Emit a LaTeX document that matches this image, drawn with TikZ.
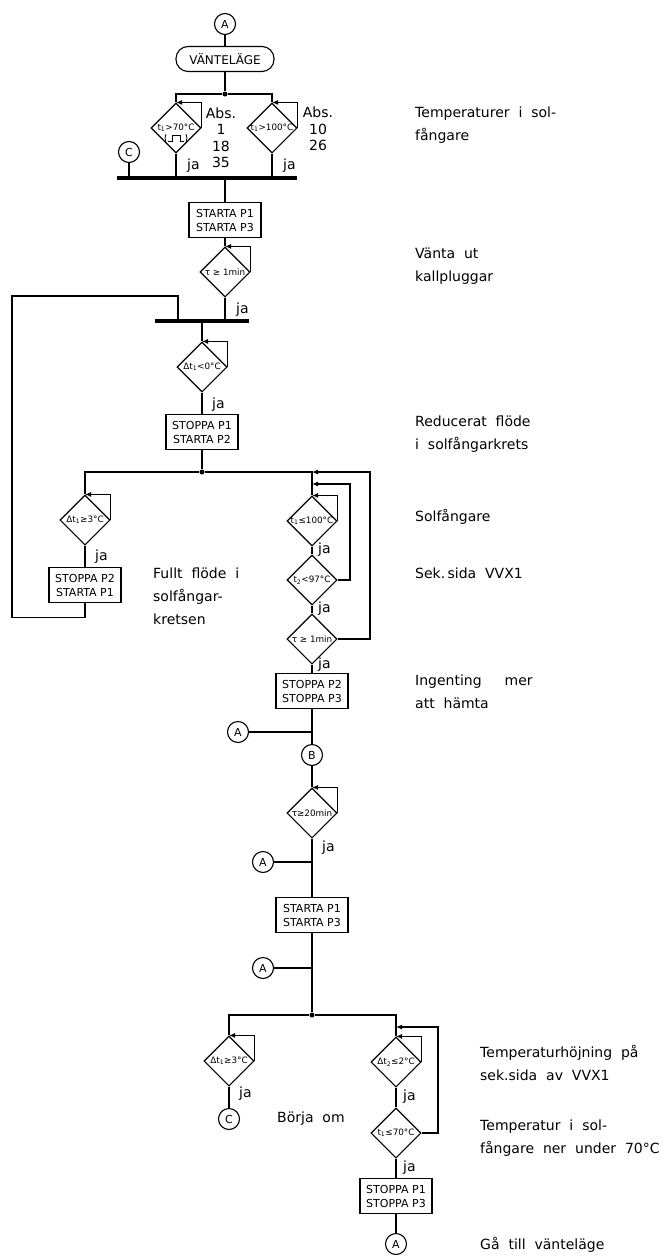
\documentclass[tikz,border=0pt]{standalone}
\usepackage{fontspec}
\setmainfont{DejaVu Sans}
\newfontfamily\labelfont[WordSpace=2]{DejaVu Sans}
\usepackage{tikz}
\usetikzlibrary{arrows.meta, shapes.geometric, positioning}
\newcommand{\idx}[1]{\textsubscript{#1}}
\tikzset{
  >=latex,
  % Flow elements
  line/.style={line width=1.1pt},
  back/.style={line, -{Latex[length=6pt,width=5pt]}},
  stepbox/.style={draw, line width=1.1pt, minimum width=72pt, minimum height=35pt, inner sep=1pt, align=center, font=\fontsize{11}{14}\selectfont},
  waitbox/.style={draw, line width=1.1pt, rounded corners=12pt, minimum width=98pt, minimum height=25pt, inner sep=1pt, font=\fontsize{12}{14}\selectfont},
  test/.style={draw, diamond, line width=1.1pt, minimum width=50pt, minimum height=50pt, inner sep=-5pt, font=\fontsize{8.8}{10}\selectfont},
  jump/.style={draw, circle, line width=1.1pt, minimum size=21pt, inner sep=0pt, font=\fontsize{11}{12}\selectfont},
  bus/.style={fill=black, minimum height=4pt, inner sep=0pt},
  dot/.style={circle, fill=black, minimum size=5pt, inner sep=0pt},
  ja/.style={anchor=west, inner sep=0pt, font=\fontsize{14}{16}\selectfont},
  absn/.style={align=center, inner sep=0pt, font=\fontsize{14}{16.5}\selectfont},
  note/.style={anchor=west, align=left, inner sep=0pt, font=\labelfont\fontsize{14}{23}\selectfont}
}

\begin{document}
\begin{tikzpicture}[x=1pt, y=-1pt]
\useasboundingbox (0,0) rectangle (671,1256);

% Waiting state and start conditions
\node[jump] (a0) at (225,24) {A};
\node[waitbox] (wait) at (225,59) {VÄNTELÄGE};
\node[dot] (j1) at (225,94) {};
\node[test] (d1) at (176,128) {t\idx{1}>70°C};
\node[test] (d2) at (272,128) {t\idx{1}>100°C};
\node[absn] (abs1) at (221,138) {Abs.\\1\\18\\35};
\node[absn] (abs2) at (318,129) {Abs.\\10\\26};
\node[bus, minimum width=180pt] (bar1) at (207,178) {};
\node[jump] (c0) at (129,152) {C};
\node[ja] (ja1) at (187,166) {ja};
\node[ja] (ja2) at (283,166) {ja};

\begin{scope}[shift={(d1.center)}]
\draw[line width=0.8pt] (-10,6) -- (-11,10) -- (-10,14);
\draw[line width=0.8pt] (10,6) -- (11,10) -- (10,14);
\draw[line width=0.8pt] (-8,13) -- (-4,13) -- (-4,7) -- (4,7) -- (4,13) -- (8,13);
\end{scope}

\draw[line] (a0) -- (wait) -- (j1);
\draw[line] (j1) -| (d1.north);
\draw[line] (j1) -| (d2.north);
\draw[back] (d1.east) |- (d1.north);
\draw[back] (d2.east) |- (d2.north);
\draw[line] (d1.south) -- (d1.south |- bar1.north);
\draw[line] (d2.south) -- (d2.south |- bar1.north);
\draw[line] (c0) -- (c0 |- bar1.north);

% Start pumps, wait out cold plugs
\node[stepbox] (b1) at (225,220) {STARTA P1\\STARTA P3};
\node[test] (d3) at (225,272) {τ ≥ 1min};
\node[ja] (ja3) at (236,310) {ja};
\node[bus, minimum width=94pt] (bar2) at (202,321) {};
\coordinate (fb) at (12,296);

\draw[line] (b1.north |- bar1.south) -- (b1.north);
\draw[line] (b1) -- (d3);
\draw[back] (d3.east) |- (d3.north);
\draw[line] (d3.south) -- (d3.south |- bar2.north);

% Reduced flow
\node[test] (d4) at (202,367) {Δt\idx{1}<0°C};
\node[ja] (ja4) at (212,405) {ja};
\node[stepbox] (b2) at (202,432) {STOPPA P1\\STARTA P2};
\node[dot] (j2) at (202,472) {};

\draw[line] (d4.north |- bar2.south) -- (d4.north);
\draw[back] (d4.east) |- (d4.north);
\draw[line] (d4) -- (b2) -- (j2);

% Left branch: full flow
\node[test] (d5) at (85,520) {Δt\idx{1}≥3°C};
\node[ja] (ja5) at (95,557) {ja};
\node[stepbox] (b3) at (85,585) {STOPPA P2\\STARTA P1};

\draw[line] (j2) -| (d5.north);
\draw[back] (d5.east) |- (d5.north);
\draw[line] (d5) -- (b3);
\draw[line] (b3.south) -- ++(0,14) -| (fb) -| ([xshift=-24pt]bar2.north);

% Right branch: nothing more to collect
\node[test] (d6) at (312,521) {t\idx{1}≤100°C};
\node[ja] (ja6) at (318,550) {ja};
\node[test] (d7) at (312,580) {t\idx{2}<97°C};
\node[ja] (ja7) at (318,609) {ja};
\node[test] (d8) at (312,639) {τ ≥ 1min};
\node[ja] (ja8) at (318,665) {ja};
\node[stepbox] (b4) at (312,691) {STOPPA P2\\STOPPA P3};
\coordinate (m1) at (350,484);
\coordinate (m2) at (370,472);

\draw[line] (j2) -| (d6.north);
\draw[back] (d6.east) |- (d6.north);
\draw[back] (d7.east) -| (m1) -- (m1 -| d6.north);
\draw[back] (d8.east) -| (m2) -- (m2 -| d6.north);
\draw[line] (d6) -- (d7) -- (d8) -- (b4);

% Restart after pause
\node[jump] (a1) at (238,732) {A};
\node[jump] (bb) at (312,755) {B};
\node[test] (d9) at (312,813) {τ≥20min};
\node[ja] (ja9) at (322,848) {ja};
\node[jump] (a2) at (263,862) {A};
\node[stepbox] (b5) at (312,915) {STARTA P1\\STARTA P3};
\node[jump] (a3) at (263,968) {A};
\node[dot] (j3) at (312,1015) {};

\draw[line] (b4) -- (bb);
\draw[line] (a1) -- (a1 -| b4.south);
\draw[line] (bb) -- (d9);
\draw[back] (d9.east) |- (d9.north);
\draw[line] (d9) -- (b5);
\draw[line] (a2) -- (a2 -| b5.north);
\draw[line] (b5) -- (j3);
\draw[line] (a3) -- (a3 -| b5.south);

% Final tests
\node[test] (d10) at (229,1061) {Δt\idx{1}≥3°C};
\node[ja] (ja10) at (239,1094) {ja};
\node[jump] (c1) at (229,1119) {C};
\node[test] (d11) at (396,1062) {Δt\idx{2}≤2°C};
\node[ja] (ja11) at (403,1097) {ja};
\node[test] (d12) at (396,1133) {t\idx{1}≤70°C};
\node[ja] (ja12) at (403,1168) {ja};
\node[stepbox] (b6) at (396,1196) {STOPPA P1\\STOPPA P3};
\node[jump] (a4) at (396,1244) {A};
\coordinate (m3) at (438,1027);

\draw[line] (j3) -| (d10.north);
\draw[back] (d10.east) |- (d10.north);
\draw[line] (d10) -- (c1);
\draw[line] (j3) -| (d11.north);
\draw[back] (d11.east) |- (d11.north);
\draw[back] (d12.east) -| (m3) -- (m3 -| d11.north);
\draw[line] (d11) -- (d12) -- (b6) -- (a4);

% Notes
\node[note] (n1) at (415,125) {Temperaturer i sol-\\fångare};
\node[note] (n2) at (415,266) {Vänta ut\\kallpluggar};
\node[note] (n3) at (415,434) {Reducerat flöde\\i solfångarkrets};
\node[note] (n4) at (415,517) {Solfångare};
\node[note] (n5) at (415,573) {Sek.\,sida VVX1};
\node[note] (n6) at (415,692) {Ingenting\hspace{14pt} mer\\att hämta};
\node[note] (n7) at (153,596) {Fullt flöde i\\solfångar-\\kretsen};
\node[note] (n8) at (277,1119) {Börja om};
\node[note] (n9) at (480,1063) {Temperaturhöjning på\\sek.sida av VVX1};
\node[note] (n10) at (480,1138) {Temperatur i sol-\\fångare ner under 70°C};
\node[note] (n11) at (480,1245) {Gå till vänteläge};

\end{tikzpicture}
\end{document}
